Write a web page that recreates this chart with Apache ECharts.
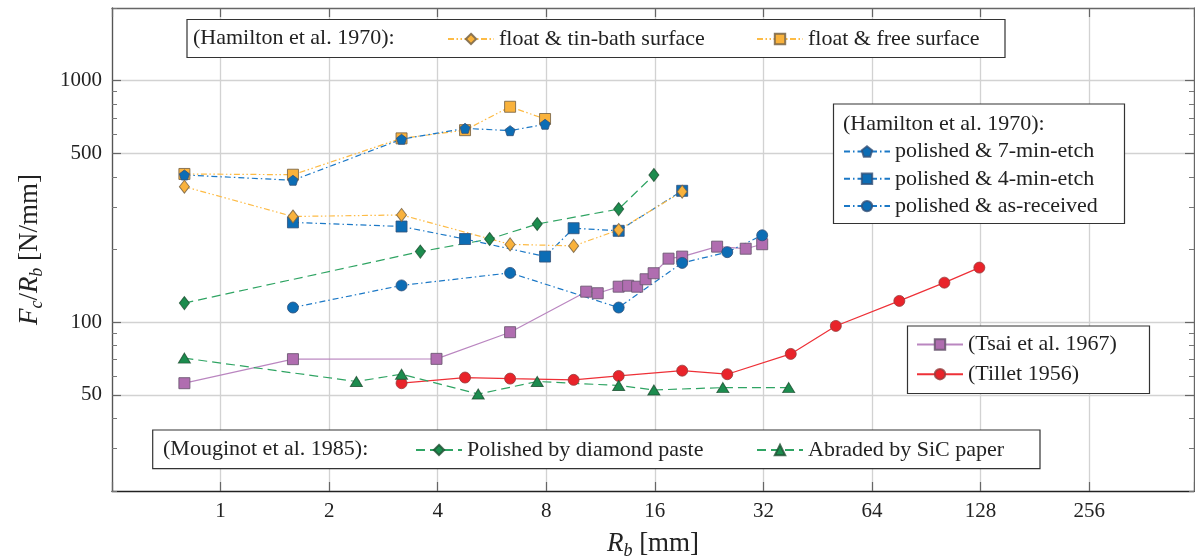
<!DOCTYPE html>
<html><head><meta charset="utf-8">
<script src="https://cdn.jsdelivr.net/npm/echarts@6/dist/echarts.min.js"></script>
<style>html,body{margin:0;padding:0;background:#fff}#c{width:1195px;height:560px}</style>
</head><body><div id="c"></div>
<script>
const xTickLabels = [1, 2, 4, 8, 16, 32, 64, 128, 256];
const yTickLabels = [50, 100, 500, 1000];
const yMinorTicks = [20, 30, 40, 60, 70, 80, 90, 200, 300, 400, 600, 700, 800, 900, 2000];

const tinBathX = [0.79375, 1.5875, 3.175, 6.35, 9.525, 12.7, 19.05];
const tinBathY = [364, 274, 278, 210, 207, 241, 347];
const freeSurfX = [0.79375, 1.5875, 3.175, 4.7625, 6.35, 7.9375];
const freeSurfY = [411, 408, 577, 624, 780, 694];
const etch7X = [0.79375, 1.5875, 3.175, 4.7625, 6.35, 7.9375];
const etch7Y = [407, 387, 572, 635, 621, 660];
const etch4X = [1.5875, 3.175, 4.7625, 7.9375, 9.525, 12.7, 19.05];
const etch4Y = [259, 249, 221, 187, 245, 239, 350];
const asRecX = [1.5875, 3.175, 6.35, 12.7, 19.05, 25.4, 31.75];
const asRecY = [115, 142, 160, 115, 176, 195, 229];
const diamondX = [0.79375, 3.58, 5.57, 7.55, 12.7, 15.9];
const diamondY = [120, 196, 221, 255, 294, 407];
const sicX = [0.79375, 2.38, 3.175, 5.18, 7.55, 12.7, 15.9, 24.7, 37.6];
const sicY = [71, 56.8, 60.9, 50.4, 56.8, 54.7, 52.4, 53.6, 53.6];
const tsaiX = [0.79375, 1.5875, 3.969, 6.35, 10.32, 11.11, 12.7, 13.49, 14.29, 15.08, 15.875, 17.46, 19.05, 23.81, 28.575, 31.75];
const tsaiY = [55.9, 70.3, 70.5, 90.9, 133.8, 131.8, 140.3, 141.6, 140.3, 150.6, 159.5, 183.3, 186.9, 205.5, 201.5, 210.3];
const tilletX = [3.175, 4.7625, 6.35, 9.525, 12.7, 19.05, 25.4, 38.1, 50.8, 76.2, 101.6, 127];
const tilletY = [55.9, 59, 58.4, 57.7, 59.9, 63, 60.9, 73.9, 96.5, 122.5, 145.8, 168.3];

const FONT = '"Liberation Serif", "Times New Roman", serif';
const pts = (xs, ys) => xs.map((x, i) => [x, ys[i]]);
const PENT = 'path://M0,-1 L0.951,-0.309 L0.588,0.809 L-0.588,0.809 L-0.951,-0.309 Z';
const DASHDOT = [6, 3, 1.5, 3];
const DASHDOTDOT = [6, 2.5, 1.5, 2.5, 1.5, 2.5];
const DASHED = [9, 5];

function mk(name, xs, ys, symbol, size, fill, border, lineColor, dash) {
  return {
    type: 'line', name, data: pts(xs, ys), xAxisIndex: 0, yAxisIndex: 0,
    symbol, symbolSize: size, showSymbol: true,
    itemStyle: { color: fill, borderColor: border, borderWidth: 1 },
    lineStyle: { color: lineColor, width: 1.2, type: dash },
    emphasis: { disabled: true }, animation: false
  };
}
const ORF = '#F9B23C', ORB = 'rgba(120,100,70,0.85)', ORL = '#FDBB45';
const BLF = '#0C6DB5', BLB = 'rgba(50,80,120,0.8)', BLL = '#1B78C6';
const GRF = '#1C8C4E', GRB = 'rgba(30,80,50,0.8)', GRL = '#2FA463';
const PUF = '#B06DB0', PUB = 'rgba(110,90,115,0.9)', PUL = '#BA86C0';
const RDF = '#E9232A', RDB = 'rgba(150,60,60,0.8)', RDL = '#EE3037';

const series = [
  mk('(Tsai et al. 1967)', tsaiX, tsaiY, 'rect', 11, PUF, PUB, PUL, 'solid'),
  mk('(Tillet 1956)', tilletX, tilletY, 'circle', 11, RDF, RDB, RDL, 'solid'),
  mk('Abraded by SiC paper', sicX, sicY, 'triangle', [12, 10], GRF, GRB, GRL, DASHED),
  mk('Polished by diamond paste', diamondX, diamondY, 'diamond', [10, 13], GRF, GRB, GRL, DASHED),
  mk('float & free surface', freeSurfX, freeSurfY, 'rect', 11, ORF, ORB, ORL, DASHDOTDOT),
  mk('polished & 7-min-etch', etch7X, etch7Y, PENT, 10, BLF, BLB, BLL, DASHDOT),
  mk('polished & 4-min-etch', etch4X, etch4Y, 'rect', 11, BLF, BLB, BLL, DASHDOT),
  mk('float & tin-bath surface', tinBathX, tinBathY, 'diamond', [10, 13], ORF, ORB, ORL, DASHDOTDOT),
  mk('polished & as-received', asRecX, asRecY, 'circle', 11, BLF, BLB, BLL, DASHDOT)
];

const legendBase = {
  selectedMode: false, padding: 0, itemWidth: 46, itemHeight: 13, z: 6,
  textStyle: { fontFamily: FONT, fontSize: 22, color: '#222' }
};

const nameRich = {
  i: { fontFamily: FONT, fontStyle: 'italic', fontSize: 27, color: '#222', lineHeight: 32 },
  s: { fontFamily: FONT, fontStyle: 'italic', fontSize: 18, color: '#222', lineHeight: 15, verticalAlign: 'bottom' },
  n: { fontFamily: FONT, fontSize: 27, color: '#222', lineHeight: 32 }
};

const xBase = { type: 'log', logBase: 2, min: 0.5, max: 500, splitNumber: 10 };
const yBase = { type: 'log', logBase: 10, min: 20, max: 2000 };

const option = {
  backgroundColor: '#fff',
  animation: false,
  grid: { left: 112, right: 1, top: 8, bottom: 69, containLabel: false, outerBoundsMode: 'none' },
  xAxis: [
    Object.assign({}, xBase, {
      position: 'bottom',
      axisLine: { show: true, lineStyle: { color: '#222', width: 1.3 } },
      axisTick: { show: true, inside: true, length: 9, lineStyle: { color: '#666', width: 1.2 } },
      axisLabel: {
        margin: 10, fontFamily: FONT, fontSize: 21, color: '#222',
        formatter: v => { const r = xTickLabels.find(t => Math.abs(t - v) < 1e-6 * t); return r ? String(r) : ''; }
      },
      splitLine: { show: true, lineStyle: { color: '#d2d2d2', width: 1.3 } },
      name: '{i|R}{s|b}{n| [mm]}', nameLocation: 'middle', nameGap: 37,
      nameTextStyle: { rich: nameRich }
    }),
    Object.assign({}, xBase, {
      position: 'top',
      axisLine: { show: true, lineStyle: { color: '#666', width: 1.3 } },
      axisTick: { show: true, inside: true, length: 9, lineStyle: { color: '#666', width: 1.2 } },
      axisLabel: { show: false },
      splitLine: { show: false }
    })
  ],
  yAxis: [
    Object.assign({}, yBase, {
      position: 'left',
      axisLine: { show: true, lineStyle: { color: '#555', width: 1.3 } },
      axisTick: { show: true, inside: true, length: 9, customValues: yTickLabels, lineStyle: { color: '#666', width: 1.2 } },
      axisLabel: { customValues: yTickLabels, margin: 10, fontFamily: FONT, fontSize: 21, color: '#222',
        formatter: v => String(Math.round(v)) },
      splitLine: { show: true, lineStyle: { color: '#d2d2d2', width: 1.3 } },
      name: '{i|F}{s|c}{n|/}{i|R}{s|b}{n| [N/mm]}', nameLocation: 'middle', nameGap: 66,
      nameTextStyle: { rich: nameRich }
    }),
    Object.assign({}, yBase, {
      position: 'right',
      axisLine: { show: true, lineStyle: { color: '#666', width: 1.3 } },
      axisTick: { show: true, inside: true, length: 9, customValues: yTickLabels, lineStyle: { color: '#666', width: 1.2 } },
      axisLabel: { show: false },
      splitLine: { show: false }
    }),
    Object.assign({}, yBase, {
      position: 'left',
      axisLine: { show: false },
      axisTick: { show: true, inside: true, length: 5, customValues: yMinorTicks, lineStyle: { color: '#777', width: 1 } },
      axisLabel: { show: false },
      splitLine: { show: false }
    }),
    Object.assign({}, yBase, {
      position: 'right',
      axisLine: { show: false },
      axisTick: { show: true, inside: true, length: 5, customValues: yMinorTicks, lineStyle: { color: '#777', width: 1 } },
      axisLabel: { show: false },
      splitLine: { show: false }
    })
  ],
  legend: [
    Object.assign({}, legendBase, { data: ['float & tin-bath surface'], left: 447, top: 28 }),
    Object.assign({}, legendBase, { data: ['float & free surface'], left: 756, top: 28 }),
    Object.assign({}, legendBase, { orient: 'vertical', itemGap: 5.3, left: 843, top: 140.5,
      data: ['polished & 7-min-etch', 'polished & 4-min-etch', 'polished & as-received'] }),
    Object.assign({}, legendBase, { orient: 'vertical', itemGap: 7.7, left: 916, top: 333.5,
      data: ['(Tsai et al. 1967)', '(Tillet 1956)'] }),
    Object.assign({}, legendBase, { data: ['Polished by diamond paste'], left: 415, top: 439 }),
    Object.assign({}, legendBase, { data: ['Abraded by SiC paper'], left: 756, top: 439 })
  ],
  graphic: [
    { type: 'rect', z: 3, shape: { x: 187, y: 19.5, width: 818, height: 38 }, style: { fill: '#fff', stroke: '#333', lineWidth: 1.2 } },
    { type: 'rect', z: 3, shape: { x: 833.5, y: 104, width: 291, height: 119.5 }, style: { fill: '#fff', stroke: '#333', lineWidth: 1.2 } },
    { type: 'rect', z: 3, shape: { x: 907.5, y: 326, width: 242, height: 67.5 }, style: { fill: '#fff', stroke: '#333', lineWidth: 1.2 } },
    { type: 'rect', z: 3, shape: { x: 152.7, y: 430, width: 887.3, height: 38.7 }, style: { fill: '#fff', stroke: '#333', lineWidth: 1.2 } },
    { type: 'text', z: 7, x: 193, y: 38.5, style: { text: '(Hamilton et al. 1970):', fontFamily: FONT, fontSize: 22, fill: '#222', verticalAlign: 'middle' } },
    { type: 'text', z: 7, x: 843, y: 124, style: { text: '(Hamilton et al. 1970):', fontFamily: FONT, fontSize: 22, fill: '#222', verticalAlign: 'middle' } },
    { type: 'text', z: 7, x: 163, y: 449.3, style: { text: '(Mouginot et al. 1985):', fontFamily: FONT, fontSize: 22, fill: '#222', verticalAlign: 'middle' } }
  ],
  series
};
const chart = echarts.init(document.getElementById('c'), null, { renderer: 'canvas' });
chart.setOption(option);
</script></body></html>
